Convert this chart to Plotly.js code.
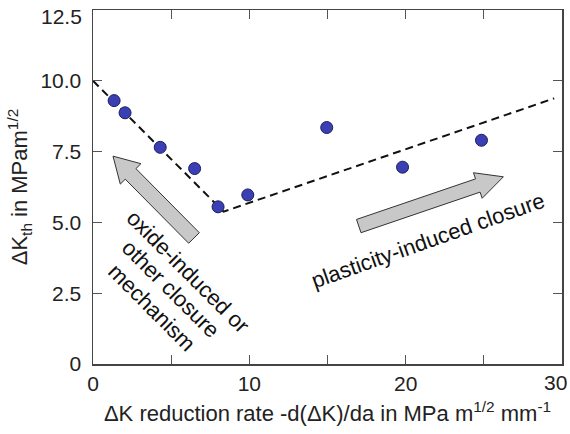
<!DOCTYPE html>
<html>
<head>
<meta charset="utf-8">
<script src="https://cdn.plot.ly/plotly-3.0.1.min.js"></script>
<style>html,body{margin:0;padding:0;background:#fff;}#chart{width:570px;height:434px;}</style>
</head>
<body>
<div id="chart"></div>
<script>
// Measured data points
const rateX = [1.35, 2.05, 4.3, 6.5, 8.0, 9.9, 14.95, 19.8, 24.85];
const kthY  = [9.3, 8.87, 7.65, 6.9, 5.55, 5.97, 8.35, 6.95, 7.9];
// Trend (dashed) line vertices
const trendX = [0, 8.35, 29.5];
const trendY = [10.0, 5.38, 9.38];
// Tick labels (edge labels 30 and 12.5 are placed as annotations so they stay inside the page)
const xTickVals = [0, 5, 10, 15, 20, 25, 30];
const xTickText = ['0', '', '10', '', '20', '', ''];
const yTickVals = [0, 2.5, 5, 7.5, 10, 12.5];
const yTickText = ['0', '2.5', '5.0', '7.5', '10.0', ''];
const xEdgeLabel = '30';
const yEdgeLabel = '12.5';
// Arrow annotations (tail, tip in data units)
const arrowLeft  = {tail: [6.46, 4.45], tip: [1.28, 7.34]};
const arrowRight = {tail: [17.0, 4.87], tip: [26.25, 6.61]};
// Text labels
const oxideLines = ['oxide-induced or', 'other closure', 'mechanism'];
const oxideX = [6.08, 4.93, 3.77];
const oxideY = [3.28, 2.65, 2.01];
const plasticText = 'plasticity-induced closure';

const W = 570, H = 434;
const M = {l: 93, r: 8, t: 10, b: 70};
const X0 = 0, X1 = 30, Y0 = 0, Y1 = 12.5;
const pw = W - M.l - M.r, ph = H - M.t - M.b;
const px = x => (x - X0) / (X1 - X0) * pw;
const py = y => (Y1 - y) / (Y1 - Y0) * ph;
const dx = p => X0 + p / pw * (X1 - X0);
const dy = p => Y1 - p / ph * (Y1 - Y0);

function blockArrow(a, shaftW, headW, headL) {
  const tx = px(a.tail[0]), ty = py(a.tail[1]);
  const hx = px(a.tip[0]), hy = py(a.tip[1]);
  const L = Math.hypot(hx - tx, hy - ty);
  const ux = (hx - tx) / L, uy = (hy - ty) / L;
  const nx = -uy, ny = ux;
  const bx = hx - ux * headL, by = hy - uy * headL;
  const pts = [
    [tx + nx * shaftW / 2, ty + ny * shaftW / 2],
    [bx + nx * shaftW / 2, by + ny * shaftW / 2],
    [bx + nx * headW / 2, by + ny * headW / 2],
    [hx, hy],
    [bx - nx * headW / 2, by - ny * headW / 2],
    [bx - nx * shaftW / 2, by - ny * shaftW / 2],
    [tx - nx * shaftW / 2, ty - ny * shaftW / 2]
  ];
  return 'M' + pts.map(p => dx(p[0]).toFixed(4) + ',' + dy(p[1]).toFixed(4)).join(' L') + ' Z';
}

const traces = [
  {
    x: trendX, y: trendY, type: 'scatter', mode: 'lines',
    line: {color: '#111', width: 2, dash: '8px,5px'},
    hoverinfo: 'skip', showlegend: false
  },
  {
    x: rateX, y: kthY, type: 'scatter', mode: 'markers',
    marker: {size: 12, color: '#3a3fb4', line: {color: '#1c1f5a', width: 1}},
    showlegend: false
  }
];

const FONT = 'Liberation Sans, Arial, sans-serif';
const TICKFONT = {family: FONT, size: 21, color: '#222'};
const axisCommon = {
  showgrid: false, zeroline: false, showline: true, linecolor: '#444', linewidth: 1.5,
  mirror: 'ticks', ticks: 'inside', ticklen: 9, tickcolor: '#555', tickwidth: 1,
  tickfont: TICKFONT
};

const annotations = oxideLines.map((t, i) => ({
  x: oxideX[i], y: oxideY[i], xref: 'x', yref: 'y', showarrow: false, textangle: 45,
  text: t, font: {family: FONT, size: 22, color: '#111'}
}));
annotations.push({
  x: 21.43, y: 4.37, xref: 'x', yref: 'y', showarrow: false, textangle: -19.5,
  text: plasticText, font: {family: FONT, size: 22, color: '#111'}
});
// edge tick labels
annotations.push({
  x: X1, y: 0, xref: 'x', yref: 'paper', yanchor: 'middle', yshift: -18,
  xanchor: 'center', xshift: -6.5, showarrow: false, text: xEdgeLabel, font: TICKFONT
});
annotations.push({
  x: 0, y: Y1, xref: 'paper', yref: 'y', xanchor: 'right', xshift: -9,
  yanchor: 'middle', yshift: -6, showarrow: false, text: yEdgeLabel, font: TICKFONT
});

const layout = {
  width: W, height: H,
  margin: M,
  paper_bgcolor: '#fff', plot_bgcolor: '#fff',
  font: {family: FONT, color: '#222'},
  xaxis: Object.assign({}, axisCommon, {
    range: [X0, X1], tickmode: 'array', tickvals: xTickVals, ticktext: xTickText,
    ticklabelstandoff: 0,
    title: {text: 'ΔK reduction rate -d(ΔK)/da in MPa m<sup>1/2</sup> mm<sup>-1</sup>',
            font: {family: FONT, size: 22, color: '#222'}, standoff: 12}
  }),
  yaxis: Object.assign({}, axisCommon, {
    range: [Y0, Y1], tickmode: 'array', tickvals: yTickVals, ticktext: yTickText,
    ticklabelstandoff: 6,
    title: {text: 'ΔK<sub>th</sub> in MPam<sup>1/2</sup>',
            font: {family: FONT, size: 22, color: '#222'}, standoff: 6}
  }),
  shapes: [
    {type: 'path', xref: 'x', yref: 'y', path: blockArrow(arrowLeft, 15, 29, 25),
     fillcolor: '#c8c8c8', line: {color: '#333', width: 1}},
    {type: 'path', xref: 'x', yref: 'y', path: blockArrow(arrowRight, 14, 27, 27),
     fillcolor: '#c8c8c8', line: {color: '#333', width: 1}}
  ],
  annotations: annotations
};

Plotly.newPlot('chart', traces, layout, {displayModeBar: false, staticPlot: true});
</script>
</body>
</html>
